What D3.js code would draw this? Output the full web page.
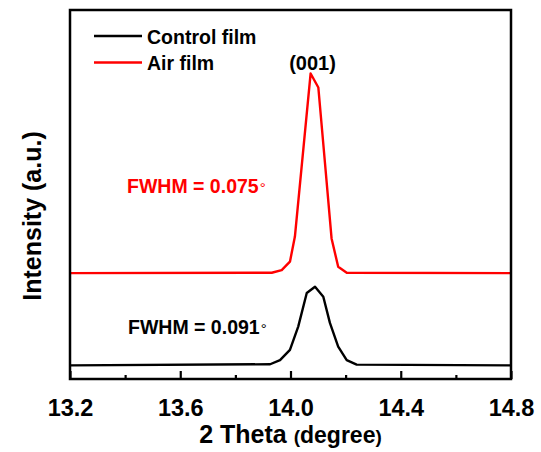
<!DOCTYPE html>
<html>
<head>
<meta charset="utf-8">
<script src="https://cdn.jsdelivr.net/npm/d3@7"></script>
<style>
  html, body { margin: 0; padding: 0; background: #fff; }
  svg { display: block; font-family: "Liberation Sans", Arial, sans-serif; font-weight: bold; }
</style>
</head>
<body>
<script>
// XRD (001) peak, 2θ in degrees vs intensity (arbitrary units, offset traces)
const controlTheta = [13.2, 13.926, 13.962, 13.998, 14.028, 14.059, 14.089, 14.119, 14.143, 14.173, 14.204, 14.240, 14.8];
const controlIntensity = [37, 40, 51, 79, 142, 233, 250, 223, 152, 88, 51, 39, 37];

const airTheta = [13.2, 13.932, 13.968, 13.998, 14.016, 14.045, 14.073, 14.101, 14.125, 14.149, 14.173, 14.204, 14.8];
const airIntensity = [287, 288, 295, 318, 386, 611, 828, 790, 586, 381, 304, 288, 287];

const xMajorTicks = [13.2, 13.6, 14.0, 14.4, 14.8];
const xMinorTicks = [13.4, 13.8, 14.2, 14.6];

const seriesNames = ["Control film", "Air film"];
const seriesColors = ["#000000", "#ff0000"];
const fwhmLabels = ["FWHM = 0.091", "FWHM = 0.075"];
const peakLabel = "(001)";

const W = 541, H = 452;
const margin = { left: 70, right: 30, top: 10, bottom: 73 };
const plotW = W - margin.left - margin.right;
const plotH = H - margin.top - margin.bottom;

const svg = d3.select("body").append("svg").attr("width", W).attr("height", H);
const g = svg.append("g").attr("transform", `translate(${margin.left},${margin.top})`);

const x = d3.scaleLinear().domain([13.2, 14.8]).range([0, plotW]);
const y = d3.scaleLinear().domain([0, 1000]).range([plotH, 0]);

const line = d3.line().x(d => x(d[0])).y(d => y(d[1]));

// traces
const series = [
  d3.zip(controlTheta, controlIntensity),
  d3.zip(airTheta, airIntensity)
];
series.forEach((s, i) => {
  g.append("path").datum(s)
    .attr("d", line)
    .attr("fill", "none")
    .attr("stroke", seriesColors[i])
    .attr("stroke-width", 2.4)
    .attr("stroke-linejoin", "round");
});

// bottom axis: inward ticks
const xAxis = d3.axisBottom(x).tickValues(xMajorTicks).tickFormat(d3.format(".1f"))
  .tickSizeInner(-8).tickSizeOuter(0).tickPadding(20);
const ax = g.append("g").attr("transform", `translate(0,${plotH})`).call(xAxis);
ax.select(".domain").remove();
ax.selectAll(".tick line").attr("stroke", "#000").attr("stroke-width", 2.2);
ax.selectAll(".tick text").attr("font-size", 23.5).attr("font-weight", "bold")
  .attr("font-family", "Liberation Sans, Arial, sans-serif").attr("fill", "#000");

const minorAxis = d3.axisBottom(x).tickValues(xMinorTicks).tickFormat("")
  .tickSizeInner(-4).tickSizeOuter(0);
const mx = g.append("g").attr("transform", `translate(0,${plotH})`).call(minorAxis);
mx.select(".domain").remove();
mx.selectAll(".tick line").attr("stroke", "#000").attr("stroke-width", 2.2);

// frame
g.append("rect").attr("x", 0).attr("y", 0).attr("width", plotW).attr("height", plotH)
  .attr("fill", "none").attr("stroke", "#000").attr("stroke-width", 2.5);

// legend
const legend = g.append("g");
seriesNames.forEach((name, i) => {
  const ly = 26 + i * 26.5;
  legend.append("line").attr("x1", 24).attr("x2", 72).attr("y1", ly).attr("y2", ly)
    .attr("stroke", seriesColors[i]).attr("stroke-width", 2.6);
  legend.append("text").attr("x", 77).attr("y", ly + 7.5)
    .attr("font-size", 19.5).attr("fill", "#000").text(name);
});

// peak index label
g.append("text").attr("x", x(14.08)).attr("y", 60).attr("text-anchor", "middle")
  .attr("font-size", 20).attr("fill", "#000").text(peakLabel);

// FWHM annotations
const fwhmPos = [[58, 323.5], [57, 182.5]];
fwhmLabels.forEach((lab, i) => {
  const t = g.append("text").attr("x", fwhmPos[i][0]).attr("y", fwhmPos[i][1])
    .attr("font-size", 19.5).attr("fill", seriesColors[i]);
  t.append("tspan").text(lab);
  t.append("tspan").attr("font-weight", "normal").attr("font-size", 15)
    .attr("dx", 1).attr("dy", 0.5).text("°");
});

// axis titles
const xt = svg.append("text").attr("x", 290.5).attr("y", 443).attr("text-anchor", "middle")
  .attr("fill", "#000");
xt.append("tspan").attr("font-size", 25).text("2 Theta ");
xt.append("tspan").attr("font-size", 19).text("(");
xt.append("tspan").attr("font-size", 23).text("degree");
xt.append("tspan").attr("font-size", 19).text(")");

svg.append("text").attr("transform", "translate(41,216) rotate(-90)")
  .attr("text-anchor", "middle").attr("font-size", 25).attr("fill", "#000")
  .text("Intensity (a.u.)");
</script>
</body>
</html>
